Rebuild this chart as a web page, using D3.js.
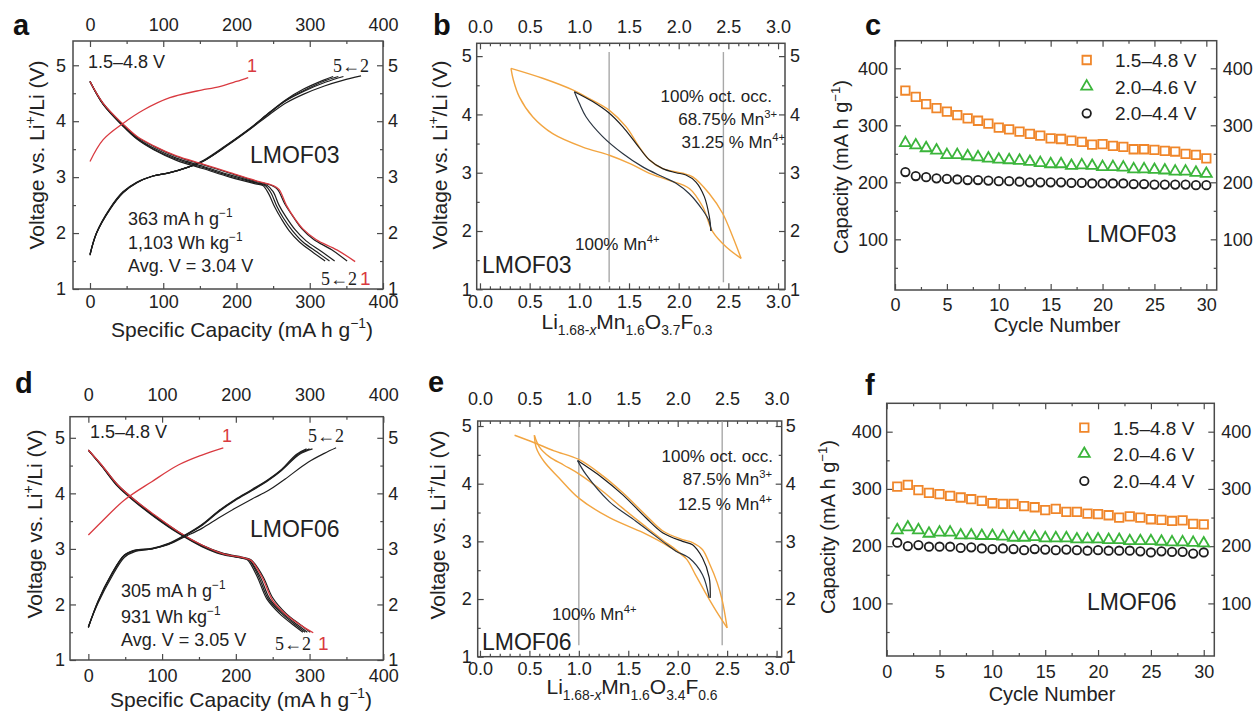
<!DOCTYPE html>
<html><head><meta charset="utf-8">
<script src="https://cdn.jsdelivr.net/npm/d3@7"></script>
<style>body{margin:0;background:#fff}</style>
</head><body>
<script>
// ---------------- DATA ----------------
// Panel a (LMOF03) voltage profiles [capacity mAh/g, voltage V]
const aCharge1 = [[0,3.28],[18,3.67],[45,3.96],[73,4.20],[109,4.42],[146,4.54],[177,4.62],[200,4.71],[216,4.78]];
const aDischarge1 = [[0,4.71],[18,4.32],[45,3.95],[64,3.73],[87,3.56],[118,3.38],[155,3.23],[191,3.08],[228,2.93],[250,2.85],[258,2.78],[268,2.50],[280,2.25],[291,2.07],[309,1.88],[337,1.70],[362,1.49]];
const aCharge2 = [[0,1.62],[9,2.0],[27,2.42],[45,2.72],[64,2.90],[86,3.02],[109,3.08],[132,3.17],[155,3.29],[186,3.55],[218,3.85],[246,4.13],[268,4.33],[291,4.48],[320,4.63],[345,4.73],[370,4.81]];
const aCharge3 = [[0,1.62],[9,2.0],[27,2.42],[45,2.72],[64,2.90],[86,3.02],[109,3.08],[132,3.17],[155,3.29],[186,3.56],[218,3.86],[246,4.16],[268,4.37],[293,4.54],[322,4.70],[346,4.80]];
const aCharge4 = [[0,1.61],[9,2.0],[27,2.43],[45,2.73],[64,2.91],[86,3.02],[109,3.08],[132,3.17],[155,3.29],[186,3.56],[218,3.86],[246,4.16],[268,4.38],[292,4.55],[320,4.72],[339,4.80]];
const aCharge5 = [[0,1.60],[9,2.01],[27,2.44],[45,2.74],[64,2.91],[86,3.02],[109,3.08],[132,3.17],[155,3.30],[186,3.57],[218,3.87],[246,4.17],[268,4.39],[291,4.57],[318,4.73],[332,4.80]];
const aDischarge2 = [[0,4.71],[18,4.32],[45,3.94],[64,3.72],[87,3.55],[118,3.37],[155,3.22],[191,3.07],[228,2.92],[248,2.85],[256,2.78],[266,2.52],[278,2.28],[289,2.08],[305,1.89],[330,1.70],[351,1.50]];
const aDischarge3 = [[0,4.71],[18,4.31],[45,3.93],[64,3.70],[87,3.52],[118,3.34],[155,3.19],[191,3.04],[228,2.90],[242,2.85],[250,2.74],[258,2.50],[268,2.28],[280,2.06],[295,1.86],[316,1.67],[334,1.50]];
const aDischarge4 = [[0,4.71],[18,4.30],[45,3.92],[64,3.69],[87,3.50],[118,3.32],[155,3.17],[191,3.02],[228,2.89],[239,2.85],[247,2.72],[255,2.48],[264,2.27],[276,2.05],[290,1.85],[310,1.66],[327,1.50]];
const aDischarge5 = [[0,4.71],[18,4.30],[45,3.91],[64,3.68],[87,3.49],[118,3.30],[155,3.15],[191,3.00],[226,2.88],[236,2.85],[244,2.70],[252,2.47],[261,2.26],[272,2.04],[286,1.84],[305,1.65],[321,1.50]];

// Panel d (LMOF06)
const dCharge1 = [[0,3.25],[18,3.49],[49,3.88],[86,4.21],[122,4.51],[154,4.69],[183,4.82]];
const dDischarge1 = [[0,4.78],[18,4.51],[40,4.15],[63,3.88],[90,3.61],[122,3.31],[154,3.07],[181,2.92],[213,2.83],[221,2.79],[236,2.48],[250,2.07],[268,1.82],[290,1.61],[305,1.49]];
const dCharge2 = [[0,1.60],[13,2.02],[31,2.48],[49,2.85],[63,2.95],[86,3.00],[109,3.08],[131,3.22],[154,3.37],[176,3.55],[199,3.73],[222,3.90],[244,4.05],[267,4.26],[298,4.56],[320,4.72],[336,4.82]];
const dCharge3 = [[0,1.60],[13,2.04],[31,2.52],[49,2.88],[63,2.97],[86,3.00],[109,3.09],[131,3.24],[154,3.42],[176,3.66],[199,3.87],[222,4.05],[244,4.23],[262,4.41],[286,4.70],[304,4.80]];
const dCharge4 = [[0,1.59],[13,2.05],[31,2.53],[49,2.89],[63,2.97],[86,3.00],[109,3.09],[131,3.24],[154,3.43],[176,3.67],[199,3.88],[222,4.06],[244,4.24],[262,4.42],[284,4.70],[300,4.80]];
const dCharge5 = [[0,1.58],[13,2.06],[31,2.54],[49,2.89],[63,2.98],[86,3.01],[109,3.10],[131,3.25],[154,3.44],[176,3.68],[199,3.89],[222,4.07],[244,4.25],[262,4.43],[282,4.70],[296,4.80]];
const dDischarge2 = [[0,4.78],[18,4.51],[40,4.15],[63,3.88],[90,3.60],[122,3.31],[154,3.07],[181,2.93],[213,2.84],[221,2.80],[237,2.50],[250,2.12],[268,1.84],[288,1.63],[301,1.50]];
const dDischarge3 = [[0,4.78],[18,4.50],[40,4.14],[63,3.87],[90,3.59],[122,3.30],[154,3.06],[181,2.92],[212,2.83],[219,2.79],[233,2.50],[246,2.10],[264,1.84],[284,1.63],[297,1.50]];
const dDischarge4 = [[0,4.78],[18,4.50],[40,4.13],[63,3.86],[90,3.58],[122,3.29],[154,3.05],[181,2.91],[211,2.83],[218,2.80],[231,2.50],[244,2.10],[262,1.84],[281,1.63],[294,1.50]];
const dDischarge5 = [[0,4.78],[18,4.49],[40,4.12],[63,3.85],[90,3.57],[122,3.28],[154,3.04],[181,2.90],[210,2.83],[216,2.80],[229,2.50],[242,2.10],[259,1.84],[278,1.63],[291,1.50]];

// Panel b (LMOF03) [x in Li(1.68-x), voltage]
const bOrangeUpper = [[0.312,4.79],[0.631,4.62],[0.933,4.42],[1.067,4.30],[1.302,4.07],[1.470,3.79],[1.604,3.44],[1.705,3.22],[1.839,3.07],[2.040,2.99],[2.141,2.93],[2.309,2.64],[2.443,2.30],[2.544,1.90],[2.628,1.53]];
const bOrangeLower = [[0.312,4.79],[0.336,4.59],[0.396,4.30],[0.530,3.96],[0.732,3.67],[1.034,3.44],[1.302,3.30],[1.504,3.16],[1.705,2.99],[1.906,2.87],[2.107,2.73],[2.241,2.42],[2.342,1.99],[2.476,1.73],[2.628,1.53]];
const bBlackUpper = [[2.325,2.00],[2.309,2.24],[2.258,2.59],[2.174,2.84],[2.073,2.96],[1.973,3.00],[1.839,3.07],[1.705,3.22],[1.571,3.50],[1.436,3.79],[1.302,4.02],[1.134,4.22],[0.950,4.39]];
const bBlackLower = [[0.950,4.39],[1.000,4.19],[1.067,3.96],[1.235,3.62],[1.436,3.33],[1.638,3.10],[1.839,2.93],[1.973,2.82],[2.107,2.64],[2.241,2.36],[2.309,2.16],[2.325,2.00]];
const bGuides = [1.3, 2.45];

// Panel e (LMOF06)
const eOrangeTop = [[0.35,4.84],[0.55,4.71],[0.75,4.57],[1.0,4.42],[1.24,4.14],[1.44,3.85],[1.68,3.45],[1.85,3.18],[2.05,3.03],[2.15,2.98],[2.25,2.86],[2.32,2.62],[2.40,2.28],[2.45,1.98],[2.50,1.50]];
const eOrangeMid = [[0.55,4.84],[0.60,4.64],[0.70,4.47],[0.85,4.32],[1.0,4.17],[1.24,3.87],[1.44,3.58],[1.65,3.29],[1.85,3.02],[1.98,2.86],[2.08,2.71]];
const eOrangeLow = [[0.55,4.84],[0.57,4.62],[0.65,4.38],[0.80,4.10],[1.00,3.75],[1.31,3.41],[1.65,3.15],[1.91,2.91],[2.08,2.71],[2.18,2.42],[2.29,2.08],[2.39,1.79],[2.50,1.50]];
const eBlackUpper = [[2.329,2.02],[2.319,2.37],[2.251,2.71],[2.150,2.94],[2.049,3.00],[1.847,3.15],[1.678,3.41],[1.442,3.81],[1.240,4.10],[0.987,4.40]];
const eBlackLower = [[0.987,4.40],[1.072,4.16],[1.308,3.69],[1.577,3.35],[1.847,3.00],[1.982,2.83],[2.117,2.71],[2.251,2.42],[2.319,2.02]];
const eGuides = [1.0, 2.45];

// Panels c, f: capacity vs cycle
const cycles = [1,2,3,4,5,6,7,8,9,10,11,12,13,14,15,16,17,18,19,20,21,22,23,24,25,26,27,28,29,30];
const cSquares = [361,350,337,330,324,318,312,308,303,296,293,289,285,282,277,276,273,271,266,267,264,262,258,258,257,255,254,250,248,242];
const cTriangles = [269,265,260,256,248,248,246,244,242,240,239,238,236,234,232,232,229,230,229,227,227,226,223,223,222,221,219,219,217,215];
const cCircles = [218,211,209,207,206,205,204,204,203,202,202,201,200,200,200,200,199,199,198,198,198,198,197,197,196,196,196,196,195,195];
const fSquares = [304,307,298,293,291,288,285,282,279,275,274,274,270,268,263,265,260,260,257,256,254,250,252,250,247,246,244,245,239,238];
const fTriangles = [228,233,228,222,224,224,219,219,218,218,217,215,215,216,214,214,214,212,212,212,211,211,209,209,209,208,207,207,206,205];
const fCircles = [206,200,202,199,199,199,197,198,196,195,196,195,193,195,194,193,194,193,192,193,192,192,192,191,189,191,190,190,187,189];
const legendLabels = ["1.5–4.8 V","2.0–4.6 V","2.0–4.4 V"];

// tick labels
const capTicks = [0,100,200,300,400];
const capMinor = [50,150,250,350];
const voltTicks = [1,2,3,4,5];
const voltMinor = [1.5,2.5,3.5,4.5];
const liTicks = [0,0.5,1.0,1.5,2.0,2.5,3.0];
const cycleTicks = [0,5,10,15,20,25,30];
const cycleMinor = [2.5,7.5,12.5,17.5,22.5,27.5];
const cCapTicks = [100,200,300,400];
const cCapMinor = [50,150,250,350];

// ---------------- DRAW ----------------
const FONT = "'Liberation Sans', Arial, sans-serif";
const SERIF = "'Liberation Serif', 'Times New Roman', serif";
const AX = "#4a4a4a", TXT = "#222";
const RED = "#d93a40", BLK = "#1e1e1e", ORL = "#f2a541", ORS = "#f0862a", GRN = "#3bb53b";

const svg = d3.select("body").append("svg").attr("width",1256).attr("height",714).style("background","#fff");

function makePanel(o){
  const g = svg.append("g");
  const x = d3.scaleLinear().domain(o.xd).range([o.L,o.R]);
  const y = d3.scaleLinear().domain(o.yd).range([o.B,o.T]);
  const fx = o.xfmt || (d=>String(d)), fy = o.yfmt || (d=>String(d));
  const none = ()=>"";
  function ax(gen,tr,vals,size,pad,fmt){
    const a = g.append("g").attr("transform",tr)
      .call(gen.tickValues(vals).tickSize(size).tickPadding(pad).tickFormat(fmt));
    a.select(".domain").remove();
    a.selectAll("line").attr("stroke",AX).attr("stroke-width",1.2);
    a.selectAll("text").attr("fill",TXT).attr("font-size",18).attr("font-family",FONT);
    return a;
  }
  ax(d3.axisBottom(x),`translate(0,${o.B})`,o.xMaj,-6,o.padB,fx);
  ax(d3.axisBottom(x),`translate(0,${o.B})`,o.xMin,-3,0,none);
  ax(d3.axisTop(x),`translate(0,${o.T})`,o.xMaj,-6,o.padT||0,o.topLabels?fx:none);
  ax(d3.axisTop(x),`translate(0,${o.T})`,o.xMin,-3,0,none);
  ax(d3.axisLeft(y),`translate(${o.L},0)`,o.yMaj,-6,o.padL,fy);
  ax(d3.axisLeft(y),`translate(${o.L},0)`,o.yMin,-3,0,none);
  ax(d3.axisRight(y),`translate(${o.R},0)`,o.yMaj,-6,o.padR,fy);
  ax(d3.axisRight(y),`translate(${o.R},0)`,o.yMin,-3,0,none);
  g.append("rect").attr("x",o.L).attr("y",o.T).attr("width",o.R-o.L).attr("height",o.B-o.T)
    .attr("fill","none").attr("stroke",AX).attr("stroke-width",1.5);
  return {g,x,y};
}

function rich(sel, parts, fs){
  let cur = 0;
  parts.forEach(([t,m])=>{
    const target = (m==="sub"||m==="isub") ? 0.3*fs : (m==="sup" ? -0.42*fs : 0);
    const ts = sel.append("tspan").attr("dy", target-cur).text(t);
    if(m!=="n") ts.attr("font-size", 0.66*fs);
    if(m==="isub") ts.attr("font-style","italic");
    cur = target;
  });
  return sel;
}
function txt(x,y,parts,o={}){
  const fs = o.fs||18;
  const t = svg.append("text").attr("x",x).attr("y",y).attr("font-size",fs)
    .attr("font-family",o.font||FONT).attr("fill",o.color||TXT)
    .attr("text-anchor",o.anchor||"start").attr("font-weight",o.bold?"bold":"normal");
  if(o.rot) t.attr("transform",`rotate(-90,${x},${y})`);
  if(typeof parts==="string") t.text(parts); else rich(t,parts,fs);
  return t;
}
function curve(p,data,color,w){
  p.g.append("path").datum(data)
    .attr("d", d3.line().x(d=>p.x(d[0])).y(d=>p.y(d[1])).curve(d3.curveCatmullRom.alpha(0.5)))
    .attr("fill","none").attr("stroke",color).attr("stroke-width",w).attr("stroke-linejoin","round");
}
function guide(p,xv,y0,y1){
  p.g.append("line").attr("x1",p.x(xv)).attr("x2",p.x(xv)).attr("y1",p.y(y0)).attr("y2",p.y(y1))
    .attr("stroke","#a8a8a8").attr("stroke-width",1.4);
}

const fmt1 = d3.format(".1f");
const liMinor = d3.range(0.1,3.01,0.1).filter(v=>Math.abs(v*2-Math.round(v*2))>1e-6);

// ---- Panel a ----
const pa = makePanel({L:73,R:383,T:41,B:289,xd:[-23.2,400],yd:[1,5.434],
  xMaj:capTicks,xMin:capMinor,yMaj:voltTicks,yMin:voltMinor,padB:6,padT:10,topLabels:true,padL:7,padR:5});
[aDischarge5,aDischarge4,aDischarge3,aDischarge2].forEach(d=>curve(pa,d,BLK,1.2));
[aCharge5,aCharge4,aCharge3,aCharge2].forEach(d=>curve(pa,d,BLK,1.2));
curve(pa,aDischarge1,RED,1.3);
curve(pa,aCharge1,RED,1.3);

// ---- Panel d ----
const pd = makePanel({L:70,R:383.3,T:416.7,B:660,xd:[-24.9,400],yd:[1,5.38],
  xMaj:capTicks,xMin:capMinor,yMaj:voltTicks,yMin:voltMinor,padB:9,padT:16,topLabels:true,padL:5,padR:5});
[dDischarge5,dDischarge4,dDischarge3,dDischarge2].forEach(d=>curve(pd,d,BLK,1.2));
curve(pd,dDischarge1,RED,1.3);
[dCharge5,dCharge4,dCharge3,dCharge2].forEach(d=>curve(pd,d,BLK,1.2));
curve(pd,dCharge1,RED,1.3);

// ---- Panel b ----
const pb = makePanel({L:476.7,R:785,T:43.3,B:289.3,xd:[-0.033,3.07],yd:[1,5.22],
  xMaj:liTicks,xMin:liMinor,yMaj:voltTicks,yMin:voltMinor,padB:6,padT:10,topLabels:true,padL:5,padR:5,xfmt:fmt1});
bGuides.forEach(v=>guide(pb,v,5.07,1.12));
curve(pb,bOrangeUpper,ORL,1.4);
curve(pb,bOrangeLower,ORL,1.4);
curve(pb,bBlackUpper,BLK,1.2);
curve(pb,bBlackLower,"#2a3440",1.2);

// ---- Panel e ----
const pe = makePanel({L:477.7,R:781.7,T:421,B:656.7,xd:[-0.023,3.052],yd:[1,5.087],
  xMaj:liTicks,xMin:liMinor,yMaj:voltTicks,yMin:voltMinor,padB:6,padT:16,topLabels:true,padL:6,padR:4,xfmt:fmt1});
eGuides.forEach(v=>guide(pe,v,5.08,1.2));
curve(pe,eOrangeTop,ORL,1.4);
curve(pe,eOrangeMid,ORL,1.4);
curve(pe,eOrangeLow,ORL,1.4);
curve(pe,eBlackUpper,BLK,1.2);
curve(pe,eBlackLower,"#2a3440",1.2);

// ---- Panels c & f ----
function capPanel(o, sq, tri, circ, legendY, legX, textX, label, lx, ly){
  const p = makePanel(Object.assign({xd:[0,31],xMaj:cycleTicks,xMin:cycleMinor,yMaj:cCapTicks,yMin:cCapMinor,topLabels:false},o));
  const sqSym = d3.symbol().type(d3.symbolSquare).size(72);
  const triSym = d3.symbol().type(d3.symbolTriangle).size(52);
  const ciSym = d3.symbol().type(d3.symbolCircle).size(56);
  const sets = [[sq,sqSym,ORS],[tri,triSym,GRN],[circ,ciSym,BLK]];
  sets.forEach(([vals,sym,col])=>{
    p.g.selectAll(null).data(vals).enter().append("path")
      .attr("transform",(d,i)=>`translate(${p.x(cycles[i])},${p.y(d)})`)
      .attr("d",sym()).attr("fill","none").attr("stroke",col).attr("stroke-width",1.8);
  });
  sets.forEach(([vals,sym,col],i)=>{
    svg.append("path").attr("transform",`translate(${legX},${legendY[i]})`)
      .attr("d",sym()).attr("fill","none").attr("stroke",col).attr("stroke-width",1.8);
    txt(textX,legendY[i]+7,legendLabels[i],{fs:19});
  });
  txt(lx,ly,label,{fs:23});
  return p;
}
capPanel({L:895,R:1216.7,T:40.7,B:290,yd:[11.1,448.4],padB:8,padL:7,padR:6},
  cSquares,cTriangles,cCircles,[60,86.5,113.3],1086.7,1115,"LMOF03",1087,241.7);
capPanel({L:886.7,R:1214.3,T:403.3,B:656,yd:[8.1,449.6],padB:9,padL:5,padR:7},
  fSquares,fTriangles,fCircles,[427.7,453.8,481],1084.3,1113,"LMOF06",1087,610);

// ---------------- TEXT ----------------
// panel letters
txt(13,35,"a",{fs:29,bold:true,color:"#111"});
txt(433,35,"b",{fs:29,bold:true,color:"#111"});
txt(865,35,"c",{fs:29,bold:true,color:"#111"});
txt(15,393,"d",{fs:29,bold:true,color:"#111"});
txt(428,392,"e",{fs:29,bold:true,color:"#111"});
txt(865,395,"f",{fs:29,bold:true,color:"#111"});

const voltTitle = [["Voltage vs. Li","n"],["+","sup"],["/Li (V)","n"]];
const capTitle = [["Specific Capacity (mA h g","n"],["−1","sup"],[")","n"]];
const cycTitle = [["Capacity (mA h g","n"],["−1","sup"],[")","n"]];
const bTitle = [["Li","n"],["1.68-","sub"],["x","isub"],["Mn","n"],["1.6","sub"],["O","n"],["3.7","sub"],["F","n"],["0.3","sub"]];
const eTitle = [["Li","n"],["1.68-","sub"],["x","isub"],["Mn","n"],["1.6","sub"],["O","n"],["3.4","sub"],["F","n"],["0.6","sub"]];

// axis titles
txt(242,337,capTitle,{fs:21,anchor:"middle"});
txt(44,155,voltTitle,{fs:21,anchor:"middle",rot:true});
txt(627,329,bTitle,{fs:21,anchor:"middle"});
txt(447,155,voltTitle,{fs:21,anchor:"middle",rot:true});
txt(1057,332,"Cycle Number",{fs:20,anchor:"middle"});
txt(848,167,cycTitle,{fs:20,anchor:"middle",rot:true});
txt(241,707,capTitle,{fs:21,anchor:"middle"});
txt(42,524,voltTitle,{fs:21,anchor:"middle",rot:true});
txt(632,694,eTitle,{fs:21,anchor:"middle"});
txt(445,525,voltTitle,{fs:21,anchor:"middle",rot:true});
txt(1052,701,"Cycle Number",{fs:20,anchor:"middle"});
txt(835,527,cycTitle,{fs:20,anchor:"middle",rot:true});

// panel a annotations
txt(88,68,"1.5–4.8 V",{fs:18});
txt(247,72,"1",{fs:18,color:RED});
txt(333,72,"5←2",{fs:18,font:SERIF});
txt(250,163,"LMOF03",{fs:23});
txt(128,225,[["363 mA h g","n"],["−1","sup"]],{fs:18});
txt(128,249,[["1,103 Wh kg","n"],["−1","sup"]],{fs:18});
txt(128,272,"Avg. V = 3.04 V",{fs:18});
txt(321,285,"5←2",{fs:18,font:SERIF});
txt(360,285,"1",{fs:19,color:RED});

// panel d annotations
txt(90,438,"1.5–4.8 V",{fs:18});
txt(222,442,"1",{fs:18,color:RED});
txt(308,442,"5←2",{fs:18,font:SERIF});
txt(250,537,"LMOF06",{fs:23});
txt(121,597,[["305 mA h g","n"],["−1","sup"]],{fs:18});
txt(121,623,[["931 Wh kg","n"],["−1","sup"]],{fs:18});
txt(121,646,"Avg. V = 3.05 V",{fs:18});
txt(275,650,"5←2",{fs:18,font:SERIF});
txt(318,650,"1",{fs:19,color:RED});

// panel b annotations
txt(772,102,"100% oct. occ.",{fs:17,anchor:"end"});
txt(777,125,[["68.75% Mn","n"],["3+","sup"]],{fs:17,anchor:"end"});
txt(785,148,[["31.25 % Mn","n"],["4+","sup"]],{fs:17,anchor:"end"});
txt(575,250,[["100% Mn","n"],["4+","sup"]],{fs:17});
txt(482,273,"LMOF03",{fs:23});

// panel e annotations
txt(773,462,"100% oct. occ.",{fs:17,anchor:"end"});
txt(772,485,[["87.5% Mn","n"],["3+","sup"]],{fs:17,anchor:"end"});
txt(772,510,[["12.5 % Mn","n"],["4+","sup"]],{fs:17,anchor:"end"});
txt(552,620,[["100% Mn","n"],["4+","sup"]],{fs:17});
txt(482,650,"LMOF06",{fs:23});
</script>
</body></html>
